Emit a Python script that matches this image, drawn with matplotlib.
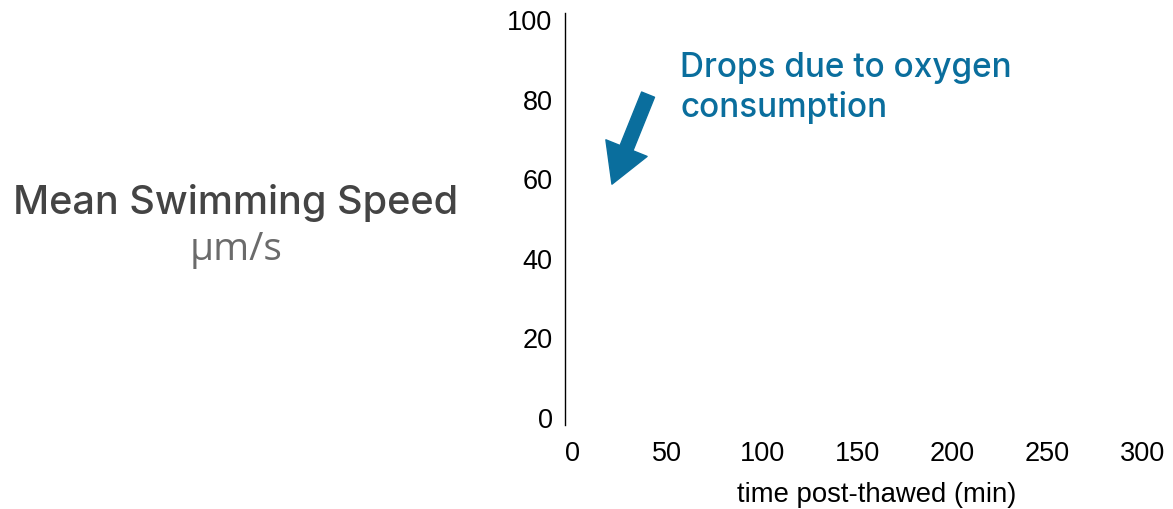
import matplotlib.pyplot as plt

# Chart content
x_ticks = [0, 50, 100, 150, 200, 250, 300]
y_ticks = [0, 20, 40, 60, 80, 100]
x_label = "time post-thawed (min)"
title_main = "Mean Swimming Speed"
title_unit = "µm/s"
note_text = "Drops due to oxygen\nconsumption"
arrow_tail = (40, 81)
arrow_tip = (21, 58.5)

blue = '#0a6e9d'

fig = plt.figure(figsize=(11.73, 5.10), dpi=100)
ax = fig.add_axes([0.4817, 0.1647, 0.5, 0.8078])

ax.set_xlim(-3.7, 305)
ax.set_ylim(-2.0, 101.5)

for side in ['top', 'right', 'bottom']:
    ax.spines[side].set_visible(False)
ax.spines['left'].set_linewidth(1.0)

ax.set_xticks(x_ticks)
ax.set_yticks(y_ticks)
ax.tick_params(axis='both', length=0, labelsize=19.5)
ax.tick_params(axis='x', pad=11)
ax.tick_params(axis='y', pad=9)
for lab in ax.get_xticklabels() + ax.get_yticklabels():
    lab.set_family('Liberation Sans')

ax.set_xlabel(x_label, fontsize=19.8, family='Liberation Sans')
ax.xaxis.set_label_coords(0.532, -0.136)

# Annotation arrow and note
ax.annotate('', xy=arrow_tip, xytext=arrow_tail,
            arrowprops=dict(arrowstyle='simple,head_length=1.4,head_width=1.6,tail_width=0.5',
                            color=blue, mutation_scale=20, shrinkA=0, shrinkB=0))
fig.text(680 / 1173, 1 - 88 / 510, note_text, color=blue, fontsize=24,
         family='Inter', fontweight='medium', ha='left', va='center', linespacing=1.26)

# Left-hand title
fig.text(236 / 1173, 1 - 203 / 510, title_main, color='#444444', fontsize=28.5,
         family='Inter', fontweight='medium', ha='center', va='center')
fig.text(236 / 1173, 1 - 250 / 510, title_unit, color='#6b6b6b', fontsize=28,
         family='Open Sans', ha='center', va='center')

fig.savefig('out.png', dpi=100)
